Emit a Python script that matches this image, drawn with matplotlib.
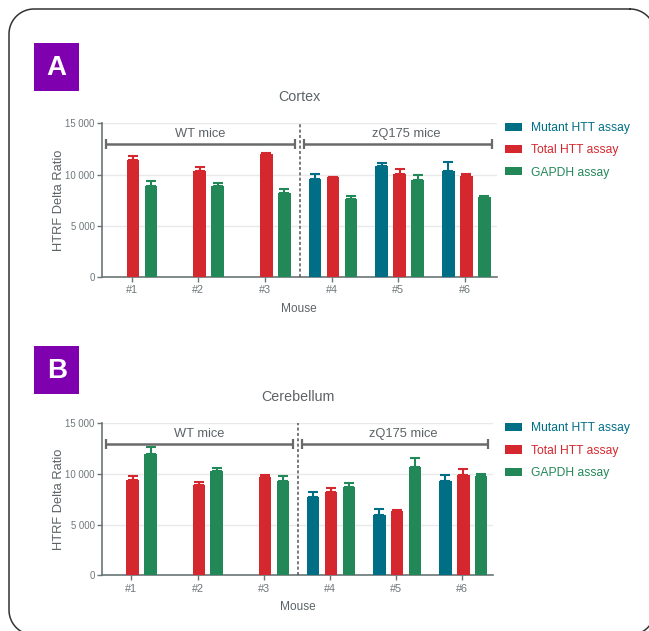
import matplotlib
matplotlib.use('Agg')
import matplotlib.pyplot as plt
from matplotlib.patches import Rectangle
import numpy as np

plt.rcParams['font.family'] = ['Liberation Sans', 'DejaVu Sans']

# ---- data ----
mice = ['#1', '#2', '#3', '#4', '#5', '#6']
series = ['Mutant HTT assay', 'Total HTT assay', 'GAPDH assay']
colors = ['#006f86', '#d4282e', '#238858']

cortex_mutant = [np.nan, np.nan, np.nan, 9520, 10880, 10300]
cortex_mutant_err = [0, 0, 0, 550, 260, 900]
cortex_total = [11400, 10350, 12000, 9720, 10070, 9850]
cortex_total_err = [400, 390, 150, 50, 460, 160]
cortex_gapdh = [8870, 8870, 8160, 7580, 9420, 7770]
cortex_gapdh_err = [510, 260, 390, 320, 550, 90]

cereb_mutant = [np.nan, np.nan, np.nan, 7700, 5990, 9310]
cereb_mutant_err = [0, 0, 0, 550, 560, 560]
cereb_total = [9410, 8880, 9730, 8190, 6320, 9900]
cereb_total_err = [420, 360, 200, 460, 100, 620]
cereb_gapdh = [12000, 10260, 9280, 8690, 10720, 9830]
cereb_gapdh_err = [630, 360, 520, 430, 860, 170]

groups = ['WT mice', 'zQ175 mice']

TEXT = '#5c6366'
TICK = '#6e7679'
AXIS = '#6b7577'
W, H = 649, 631

fig = plt.figure(figsize=(W / 100, H / 100), dpi=100)

# background axes in pixel units (y down) for the rounded frame and panel letters
bg = fig.add_axes([0, 0, 1, 1], zorder=-1)
bg.set_xlim(0, W)
bg.set_ylim(H, 0)
bg.axis('off')


def rounded_outline(x0, y0, x1, y1, r, n=20):
    # corner arcs joined in order -> closed outline as a polyline
    pts = []
    corners = [(x1 - r, y0 + r, -90, 0), (x1 - r, y1 - r, 0, 90),
               (x0 + r, y1 - r, 90, 180), (x0 + r, y0 + r, 180, 270)]
    for cx, cy, a0, a1 in corners:
        t = np.radians(np.linspace(a0, a1, n))
        pts += list(zip(cx + r * np.cos(t), cy + r * np.sin(t)))
    pts.append(pts[0])
    return np.array(pts)


outline = rounded_outline(9, 9, 655, 635, 25)
bg.plot(outline[:, 0], outline[:, 1], color='#333333', linewidth=1.1)

for letter, top in [('A', 43.3), ('B', 346)]:
    bg.add_patch(Rectangle((34.3, top), 45, 47.5, facecolor='#7e00ae', edgecolor='none'))
    bg.text(56.8, top + 24.5, letter, color='white', fontsize=20, fontweight='bold',
            ha='center', va='center')


def draw_panel(rect, title, values, errs, legend_top):
    ax = fig.add_axes(rect)
    ax_w = rect[2] * W
    ax_h = rect[3] * H
    x = np.arange(len(mice))
    offsets = [-0.25, 0.02, 0.29]
    width = 0.19
    for vals, err, off, col, name in zip(values, errs, offsets, colors, series):
        ax.bar(x + off, vals, width, color=col, label=name, zorder=3)
        e = np.array(err, dtype=float)
        ax.errorbar(x + off, vals, yerr=[np.zeros_like(e), e], fmt='none',
                    ecolor=col, elinewidth=1.5, capsize=3.5, capthick=1.5, zorder=3)

    ax.set_xlim(-0.45, 5.475)
    ax.set_ylim(0, 15000)
    ax.set_yticks([0, 5000, 10000, 15000])
    ax.yaxis.set_major_formatter(plt.FuncFormatter(lambda v, _: f'{v:,.0f}'.replace(',', ' ')))
    ax.set_xticks(x)
    ax.set_xticklabels(mice)
    ax.grid(axis='y', color='#e9e9e9', linewidth=1, zorder=0)
    ax.set_axisbelow(True)
    for side in ['top', 'right']:
        ax.spines[side].set_visible(False)
    for side in ['left', 'bottom']:
        ax.spines[side].set_color(AXIS)
        ax.spines[side].set_linewidth(1.2)
    ax.tick_params(colors=AXIS, labelcolor=TICK, labelsize=6.9, length=3.5, width=1, pad=1.5)
    ax.tick_params(axis='x', labelsize=7.8, pad=2.5)
    ax.set_xlabel('Mouse', fontsize=8.6, color=TEXT)
    ax.set_ylabel('HTRF Delta Ratio', fontsize=9.3, color=TEXT)
    ax.yaxis.set_label_coords(-37 / ax_w, 0.5)
    ax.xaxis.set_label_coords(0.5, -25.5 / ax_h)
    ax.set_title(title, fontsize=10.3, color=TEXT, pad=15.8)

    # WT / zQ175 divider and group brackets
    ax.axvline(2.52, color='#555555', linestyle=(0, (2, 1.5)), linewidth=1.1, zorder=4)
    for (x0, x1, xt), name in zip([(-0.385, 2.45, 1.02), (2.585, 5.40, 4.12)], groups):
        ax.plot([x0, x1], [13000, 13000], color='#6a6a6a', linewidth=1.8, zorder=4,
                solid_capstyle='butt')
        ax.plot([x0, x1], [13000, 13000], linestyle='none', marker='|', markersize=7,
                markeredgewidth=1.6, color='#6a6a6a', zorder=4)
        ax.text(xt, 13950, name, ha='center', va='center', fontsize=9.3, color=TEXT)

    ax.legend(loc='upper left', bbox_to_anchor=(505 / W, 1 - legend_top / H),
              bbox_transform=fig.transFigure, frameon=False,
              fontsize=8.7, handlelength=1.38, handleheight=0.66,
              handletextpad=0.75, labelspacing=0.85, borderpad=0,
              borderaxespad=0, labelcolor=colors)
    return ax


draw_panel([101.7 / W, 1 - 277 / H, 395 / W, 153.7 / H], 'Cortex',
           [cortex_mutant, cortex_total, cortex_gapdh],
           [cortex_mutant_err, cortex_total_err, cortex_gapdh_err], 122)
draw_panel([101.7 / W, 1 - 575.4 / H, 391.6 / W, 152.1 / H], 'Cerebellum',
           [cereb_mutant, cereb_total, cereb_gapdh],
           [cereb_mutant_err, cereb_total_err, cereb_gapdh_err], 422.5)

fig.savefig('out.png', dpi=100, facecolor='white')
